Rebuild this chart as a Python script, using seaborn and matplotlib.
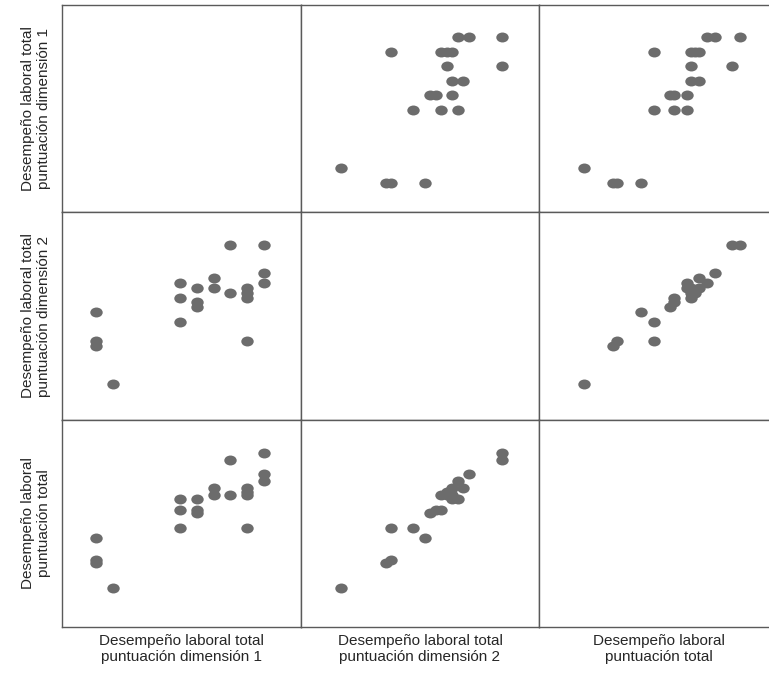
import pandas as pd
import matplotlib
matplotlib.use("Agg")
import matplotlib.pyplot as plt
import seaborn as sns
from matplotlib.path import Path
from matplotlib.transforms import Affine2D

lab_d1 = "Desempeño laboral total\npuntuación dimensión 1"
lab_d2 = "Desempeño laboral total\npuntuación dimensión 2"
lab_tot = "Desempeño laboral\npuntuación total"

dim1 = [10, 10, 10, 11, 15, 15, 15, 16, 16, 16, 17, 17, 18, 18, 19, 19, 19, 19, 20, 20, 20]
dim2 = [44, 38, 37, 29, 50, 47, 42, 49, 46, 45, 51, 49, 58, 48, 49, 48, 47, 38, 58, 52, 50]
total = [54, 48, 47, 40, 65, 62, 57, 65, 62, 61, 68, 66, 76, 66, 68, 67, 66, 57, 78, 72, 70]

df = pd.DataFrame({lab_d1: dim1, lab_d2: dim2, lab_tot: total})

sns.set_style("white")
plt.rcParams['font.family'] = ['Liberation Sans Narrow', 'Liberation Sans', 'DejaVu Sans']
plt.rcParams['font.size'] = 10

# slightly wide dot like the SPSS markers
dot = Path.unit_circle().transformed(Affine2D().scale(1.25, 1.0))

g = sns.PairGrid(df, vars=[lab_d1, lab_d2, lab_tot], despine=False, height=2.2, aspect=1.15)
g.map_offdiag(sns.scatterplot, color="#6c6c6c", marker=dot, s=80, linewidth=0)

g.figure.set_size_inches(7.69, 6.75)
g.figure.subplots_adjust(left=0.0806, right=1.0117, bottom=0.0711, top=0.9926,
                         wspace=0, hspace=0)

lims = [(7.95, 22.2), (21.65, 64.7), (29.2, 87.2)]
for i in range(3):
    for j in range(3):
        ax = g.axes[i, j]
        ax.set_xlim(lims[j])
        ax.set_ylim(lims[i])
        ax.set_xticks([])
        ax.set_yticks([])
        for sp in ax.spines.values():
            sp.set_color("#5a5a5a")
            sp.set_linewidth(1.0)

for j, lab in enumerate([lab_d1, lab_d2, lab_tot]):
    g.axes[2, j].set_xlabel(lab, fontsize=11, labelpad=5, linespacing=1.2)
    g.axes[j, 0].set_ylabel(lab, fontsize=11, labelpad=8, linespacing=1.2)

g.figure.savefig("out.png", dpi=100)
